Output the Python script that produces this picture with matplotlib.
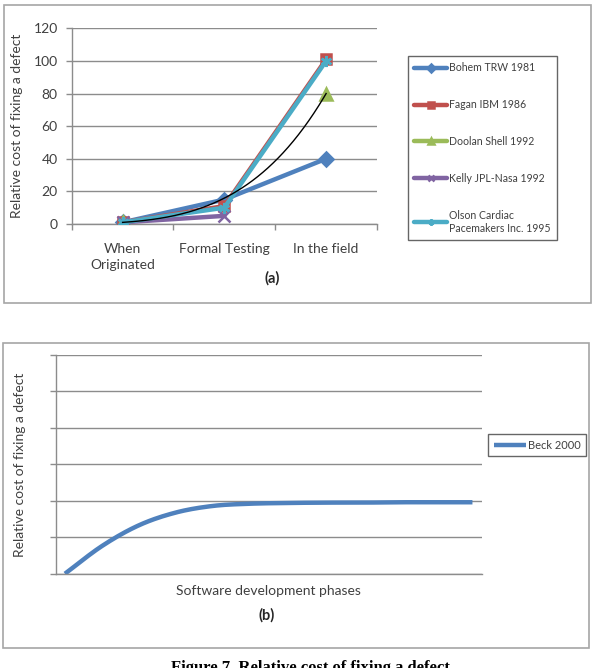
import numpy as np
import matplotlib
matplotlib.use("Agg")
import matplotlib.pyplot as plt
from matplotlib.patches import Rectangle

plt.rcParams['font.family'] = ['Lato', 'DejaVu Sans']

# ---- data panel (a)
phases = ["When\nOriginated", "Formal Testing", "In the field"]
bohem = [1, 15, 40]
fagan = [1, 11, 101]
doolan = [1, np.nan, 80]
kelly = [1, 5, np.nan]
olson = [1, 10, 100]
yticks_a = [0, 20, 40, 60, 80, 100, 120]

# ---- data panel (b)
beck_x = [0, 1, 2, 3, 4, 5, 6, 7, 8, 9, 10, 11]
beck_y = [0, 0.76, 1.33, 1.68, 1.86, 1.92, 1.94, 1.95, 1.95, 1.96, 1.96, 1.96]

W, H = 595, 668
fig = plt.figure(figsize=(W/100, H/100), dpi=100)

def fx(px):
    return px / W

def fy(py):
    return 1 - py / H

grid_c = '#8c8c8c'
txt_c = '#404040'

# panel borders
for (x0, y0, x1, y1) in [(4, 5, 591, 303), (3, 343, 589, 648)]:
    fig.patches.append(Rectangle((fx(x0), fy(y1)), fx(x1) - fx(x0), fy(y0) - fy(y1),
                                 transform=fig.transFigure, fill=False,
                                 edgecolor='#a6a6a6', linewidth=1.2))

# ---------------- panel (a)
axa = fig.add_axes([fx(71.7), fy(224), fx(377) - fx(71.7), fy(28.3) - fy(224)])
xs = np.arange(len(phases))
series = [
    ("Bohem TRW 1981", bohem, '#4F81BD', 'D', 7.5),
    ("Fagan IBM 1986", fagan, '#C0504D', 's', 7.5),
    ("Doolan Shell 1992", doolan, '#9BBB59', '^', 8),
    ("Kelly JPL-Nasa 1992", kelly, '#8064A2', 'x', 8),
    ("Olson Cardiac\nPacemakers Inc. 1995", olson, '#4BACC6', (6, 2, 0), 8),
]
handles = []
for name, vals, c, m, ms in series:
    h, = axa.plot(xs, vals, color=c, linewidth=3.2, marker=m, markersize=ms,
                  markerfacecolor=c, markeredgecolor=c, markeredgewidth=1.8,
                  label=name, solid_capstyle='round', zorder=3)
    handles.append(h)

# power trendline fitted to the Doolan series
dv = np.array(doolan, dtype=float)
ok = ~np.isnan(dv)
coef = np.polyfit(np.log(xs[ok] + 1.0), np.log(dv[ok]), 1)
xt = np.linspace(0, 2, 200)
axa.plot(xt, np.exp(np.polyval(coef, np.log(xt + 1.0))), color='black', linewidth=1.0, zorder=5)

axa.set_xlim(-0.5, 2.5)
axa.set_ylim(0, 120)
axa.set_yticks(yticks_a)
axa.set_xticks(xs)
axa.set_xticklabels(phases, fontsize=10, color=txt_c, linespacing=1.35)
axa.set_xticks([-0.5, 0.5, 1.5, 2.5], minor=True)
axa.tick_params(axis='x', which='major', length=0, pad=14)
axa.tick_params(axis='x', which='minor', length=4, color=grid_c, width=1)
axa.tick_params(axis='y', length=4, color=grid_c, width=1, pad=6, labelsize=10, labelcolor=txt_c)
axa.grid(axis='y', color=grid_c, linewidth=1)
axa.set_axisbelow(True)
for s in ['top', 'right']:
    axa.spines[s].set_visible(False)
for s in ['left', 'bottom']:
    axa.spines[s].set_color(grid_c)
    axa.spines[s].set_linewidth(1)
axa.set_ylabel("Relative cost of fixing a defect", fontsize=10, color=txt_c, labelpad=5)
axa.yaxis.set_label_coords(fx(22.7 - 71.7) / (fx(377) - fx(71.7)), 0.5)

leg = fig.legend(handles=handles, loc='upper left',
                 bbox_to_anchor=(fx(408), fy(56)), bbox_transform=fig.transFigure,
                 fontsize=7.6, frameon=True, fancybox=False, edgecolor='#404040',
                 labelspacing=2.45, handlelength=3.1, handletextpad=0.2,
                 borderpad=0.6, markerscale=0.55, borderaxespad=0)
leg.get_frame().set_linewidth(1.0)
for t in leg.get_texts():
    t.set_color(txt_c)

fig.text(fx(272), fy(278), "(a)", ha='center', va='center', fontsize=10.5,
         fontweight='bold', color='#262626')

# ---------------- panel (b)
# smoothed line (Catmull-Rom through the read points, like a spreadsheet "smoothed line")
px = np.array(beck_x, dtype=float)
py = np.array(beck_y, dtype=float)
P = np.column_stack([px, py])
Pext = np.vstack([P[0] - (P[1] - P[0]), P, P[-1] + (P[-1] - P[-2])])
t = np.linspace(0, 1, 20)[:, None]
seg = []
for i in range(1, len(Pext) - 2):
    p0, p1, p2, p3 = Pext[i - 1], Pext[i], Pext[i + 1], Pext[i + 2]
    seg.append(0.5 * ((2 * p1) + (-p0 + p2) * t + (2 * p0 - 5 * p1 + 4 * p2 - p3) * t ** 2
                      + (-p0 + 3 * p1 - 3 * p2 + p3) * t ** 3))
curve = np.vstack(seg)

axb = fig.add_axes([fx(55.7), fy(573.7), fx(481.7) - fx(55.7), fy(355) - fy(573.7)])
hb, = axb.plot(curve[:, 0], curve[:, 1], color='#4F81BD', linewidth=3.2, label='Beck 2000',
               solid_capstyle='butt')
axb.set_xlim(-0.25, 11.25)
axb.set_ylim(0, 6)
axb.set_yticks(range(0, 7))
axb.set_yticklabels([])
axb.set_xticks([])
axb.tick_params(axis='y', length=4, color=grid_c, width=1)
axb.grid(axis='y', color=grid_c, linewidth=1)
axb.set_axisbelow(True)
for s in ['top', 'right']:
    axb.spines[s].set_visible(False)
for s in ['left', 'bottom']:
    axb.spines[s].set_color(grid_c)
    axb.spines[s].set_linewidth(1)
axb.set_xlabel("Software development phases", fontsize=10, color=txt_c, labelpad=8)
axb.set_ylabel("Relative cost of fixing a defect", fontsize=10, color=txt_c)
axb.yaxis.set_label_coords(fx(26 - 55.7) / (fx(481.7) - fx(55.7)), 0.5)

legb = fig.legend(handles=[hb], loc='upper left',
                  bbox_to_anchor=(fx(488), fy(434)), bbox_transform=fig.transFigure,
                  fontsize=8, frameon=True, fancybox=False, edgecolor='#404040',
                  handlelength=2.9, handletextpad=0.2, borderpad=0.5, borderaxespad=0)
legb.get_frame().set_linewidth(1.0)
for t_ in legb.get_texts():
    t_.set_color(txt_c)

fig.text(fx(267), fy(615), "(b)", ha='center', va='center', fontsize=10.5,
         fontweight='bold', color='#262626')

fig.text(fx(310), fy(660), "Figure 7. Relative cost of fixing a defect", ha='center', va='top',
         fontsize=12, fontweight='bold', family='Liberation Serif', color='black')

fig.savefig("out.png", dpi=100)
